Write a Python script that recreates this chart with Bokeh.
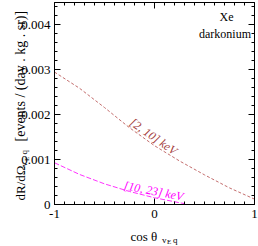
from bokeh.plotting import figure
from bokeh.models import FixedTicker, LinearAxis, Label, Range1d
from bokeh.embed import file_html
from bokeh.resources import INLINE

# ---- data ----
cos_theta = [-1.0, -0.75, -0.5, -0.25, 0.0, 0.25, 0.5, 0.75, 1.0]
rate_2_10 = [0.00295, 0.00259, 0.00216, 0.00171, 0.00131, 0.00097, 0.00066, 0.00037, 0.00012]
cos_theta_hi = [-1.0, -0.75, -0.5, -0.25, 0.0, 0.25, 0.3]
rate_10_23 = [0.00093, 0.00067, 0.00046, 0.00029, 0.00015, 0.00004, 0.00002]

x_major = [-1, 0, 1]
x_tick_labels = ["-1", "0", "1"]
y_major = [0, 0.001, 0.002, 0.003, 0.004]
y_tick_labels = ["0", "0.001", "0.002", "0.003", "0.004"]
x_minor = [round(-1 + 0.1 * i, 2) for i in range(21)]
y_minor = [round(0.0002 * i, 5) for i in range(23)]
X_LO, X_HI = -1.0, 1.0
Y_LO, Y_HI = 0.0, 0.0045

FONT = "Liberation Serif"
W, H = 258, 246
# plot box position on the canvas (pixels): left, right, top, bottom
BL, BR, BT, BB = 54, 254, 2, 204
sx = (BR - BL) / (X_HI - X_LO)
sy = (BB - BT) / (Y_HI - Y_LO)

p = figure(width=W, height=H,
           x_range=Range1d(X_LO - BL / sx, X_HI + (W - BR) / sx),
           y_range=Range1d(Y_LO - (H - BB) / sy, Y_HI + BT / sy),
           output_backend="svg", toolbar_location=None,
           min_border_left=0, min_border_right=0, min_border_top=0, min_border_bottom=0)
p.grid.visible = False
p.outline_line_color = None
p.background_fill_color = "white"
p.border_fill_color = "white"
p.xaxis.visible = False
p.yaxis.visible = False

def make_axis(ticks, minors, loc, bounds):
    ax = LinearAxis(fixed_location=loc, bounds=bounds,
                    ticker=FixedTicker(ticks=ticks, minor_ticks=minors))
    ax.major_tick_in = 6
    ax.major_tick_out = 0
    ax.minor_tick_in = 3
    ax.minor_tick_out = 0
    ax.axis_line_color = "black"
    ax.major_tick_line_color = "black"
    ax.minor_tick_line_color = "black"
    ax.axis_label = None
    ax.major_label_overrides = {t: "" for t in ticks}
    ax.major_label_text_color = None
    ax.major_label_standoff = 0
    return ax

p.add_layout(make_axis(x_major, x_minor, Y_LO, (X_LO, X_HI)), "below")
p.add_layout(make_axis(x_major, x_minor, Y_HI, (X_LO, X_HI)), "above")
p.add_layout(make_axis(y_major, y_minor, X_LO, (Y_LO, Y_HI)), "left")
p.add_layout(make_axis(y_major, y_minor, X_HI, (Y_LO, Y_HI)), "right")

p.line(cos_theta, rate_2_10, line_color="#c46e6e", line_width=1, line_dash="3 2")
p.line(cos_theta_hi, rate_10_23, line_color="#ff33ff", line_width=1, line_dash="5 2")

# tick labels (serif), placed at the tick values
for t, s in zip(y_major, y_tick_labels):
    p.add_layout(Label(x=X_LO, y=t, x_offset=-4, text=s, text_font=FONT, text_font_size="13px",
                       text_align="right", text_baseline="middle", text_color="black"))
for t, s in zip(x_major, x_tick_labels):
    p.add_layout(Label(x=t, y=Y_LO, y_offset=-5, text=s, text_font=FONT, text_font_size="13px",
                       text_align="center", text_baseline="top", text_color="black"))

# canvas pixel -> data helpers for text placement
def px(x):
    return X_LO + (x - BL) / sx

def py(y):
    return Y_LO + (BB - y) / sy

def lab(x, y, text, size, color="black", angle=0, align="left", baseline="alphabetic", style="normal"):
    p.add_layout(Label(x=px(x), y=py(y), text=text, text_font=FONT, text_font_size=f"{size}px",
                       text_color=color, angle=angle, angle_units="deg", text_align=align,
                       text_baseline=baseline, text_font_style=style))

lab(153, 136, "[2, 10] keV", 12, color="#a33c3c", angle=-35, align="center", baseline="middle", style="italic")
lab(153, 190.5, "[10, 23] keV", 12, color="#ff00ff", angle=-11, align="center", baseline="middle", style="italic")
lab(233, 16, "Xe", 12, align="right", baseline="middle")
lab(250.5, 33, "darkonium", 12, align="right", baseline="middle")

# x axis label: cos θ_{v_E q}
lab(130, 236, "cos θ", 13)
lab(161.5, 239, "v", 9)
lab(166.5, 241.5, "E", 7)
lab(172.5, 239, "q", 9)

# y axis label: dR/dΩ_{v_E q} [events / (day . kg . sr)]
lab(20, 200, "dR/dΩ", 13, angle=90)
lab(23, 166, "v", 9, angle=90)
lab(26, 160.5, "E", 7, angle=90)
lab(23, 154, "q", 9, angle=90)
lab(20, 141, "[events / (day . kg . sr)]", 14, angle=90)

open("out.html", "w").write(file_html(p, INLINE))
